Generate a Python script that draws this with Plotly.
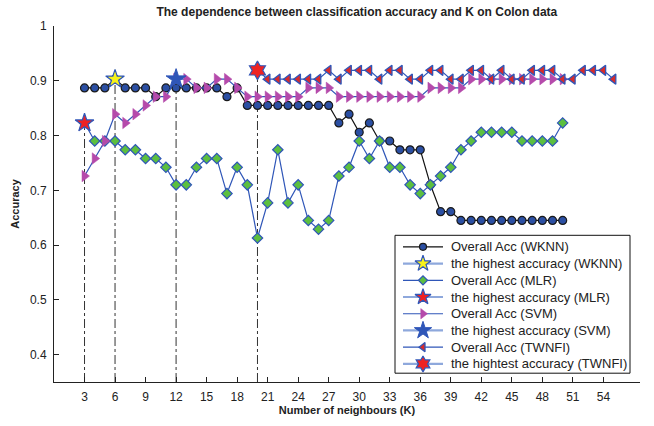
import plotly.graph_objects as go

# Neighbourhood sizes (K) for each classifier
k_wknn = list(range(3, 51))
k_mlr = list(range(3, 51))
k_svm = list(range(3, 51))
k_twnfi = list(range(20, 56))

# Overall accuracy per K
acc_wknn = [0.887, 0.887, 0.887, 0.903, 0.887, 0.887, 0.887, 0.871, 0.887, 0.887,
            0.887, 0.887, 0.887, 0.887, 0.871, 0.887, 0.855, 0.855, 0.855, 0.855,
            0.855, 0.855, 0.855, 0.855, 0.855, 0.823, 0.839, 0.806, 0.823, 0.790,
            0.790, 0.774, 0.774, 0.774, 0.710, 0.661, 0.661, 0.645, 0.645, 0.645,
            0.645, 0.645, 0.645, 0.645, 0.645, 0.645, 0.645, 0.645]
acc_mlr = [0.823, 0.790, 0.790, 0.790, 0.774, 0.774, 0.758, 0.758, 0.742, 0.710,
           0.710, 0.742, 0.758, 0.758, 0.694, 0.742, 0.710, 0.613, 0.677, 0.774,
           0.677, 0.710, 0.645, 0.629, 0.645, 0.726, 0.742, 0.790, 0.758, 0.790,
           0.742, 0.742, 0.710, 0.694, 0.710, 0.726, 0.742, 0.774, 0.790, 0.806,
           0.806, 0.806, 0.806, 0.790, 0.790, 0.790, 0.790, 0.823]
acc_svm = [0.726, 0.758, 0.790, 0.839, 0.823, 0.839, 0.855, 0.871, 0.871, 0.903,
           0.903, 0.887, 0.887, 0.903, 0.903, 0.887, 0.871, 0.871, 0.871, 0.871,
           0.871, 0.871, 0.887, 0.887, 0.887, 0.871, 0.871, 0.871, 0.871, 0.871,
           0.871, 0.871, 0.871, 0.871, 0.887, 0.887, 0.887, 0.887, 0.903, 0.903,
           0.903, 0.903, 0.903, 0.903, 0.903, 0.903, 0.903, 0.903]
acc_twnfi = [0.919, 0.903, 0.903, 0.903, 0.903, 0.903, 0.903, 0.919, 0.903, 0.919,
             0.919, 0.919, 0.903, 0.919, 0.919, 0.903, 0.903, 0.919, 0.919, 0.903,
             0.903, 0.919, 0.919, 0.903, 0.919, 0.903, 0.903, 0.919, 0.919, 0.919,
             0.903, 0.903, 0.919, 0.919, 0.919, 0.903]

x_ticks = list(range(3, 55, 3))
y_ticks = [0.4, 0.5, 0.6, 0.7, 0.8, 0.9, 1.0]
y_min, y_max = 0.35, 1.0
x_min, x_max = 0, 57.6

BLUE = "#2f56b8"
LIGHT_BLUE = "#8ea8dc"
FONT = "Liberation Sans, Arial, sans-serif"
TEXT = "#222222"

# Figure geometry (pixels)
W, H = 654, 426
M_L, M_R, M_T, M_B = 54, 14, 26, 36


def best(ks, vals):
    i = max(range(len(vals)), key=lambda j: (vals[j], -j))
    return ks[i], vals[i]


series = [
    dict(name="WKNN", ks=k_wknn, vals=acc_wknn, line="#111111",
         marker=dict(symbol="circle", size=8, color="#2b4fa3",
                     line=dict(color="#1a1a1a", width=1.2)),
         star=dict(symbol="star", size=14, color="#f6f21a",
                   line=dict(color=BLUE, width=1.2)),
         label="the highest accuracy (WKNN)"),
    dict(name="MLR", ks=k_mlr, vals=acc_mlr, line=BLUE,
         marker=dict(symbol="diamond", size=8, color="#5cbf3f",
                     line=dict(color=BLUE, width=1.2)),
         star=dict(symbol="star", size=14, color="#ee2222",
                   line=dict(color=BLUE, width=1.2)),
         label="the highest accuracy (MLR)"),
    dict(name="SVM", ks=k_svm, vals=acc_svm, line=BLUE,
         marker=dict(symbol="triangle-right", size=10, color="#b54aab",
                     line=dict(color="#b54aab", width=0.5)),
         star=dict(symbol="star", size=15, color="#2f56b8",
                   line=dict(color=BLUE, width=1)),
         label="the highest accuracy (SVM)"),
    dict(name="TWNFI", ks=k_twnfi, vals=acc_twnfi, line=BLUE,
         marker=dict(symbol="triangle-left", size=9, color="#d92b2b",
                     line=dict(color=BLUE, width=1.3)),
         star=dict(symbol="hexagram", size=14, color="#ee2222",
                   line=dict(color=BLUE, width=1.2)),
         label="the hightest accuracy (TWNFI)"),
]

fig = go.Figure()

# Dash-dot drop lines from each best K down to the axis
for s in series:
    bk, bv = best(s["ks"], s["vals"])
    fig.add_trace(go.Scatter(
        x=[bk, bk], y=[y_min, bv], mode="lines",
        line=dict(color="#333333", width=1, dash="dashdot"),
        showlegend=False, hoverinfo="skip"))

# Accuracy curves and their best-K markers
legend_items = []
for s in series:
    fig.add_trace(go.Scatter(
        x=s["ks"], y=s["vals"], mode="lines+markers",
        name=f"Overall Acc ({s['name']})",
        line=dict(color=s["line"], width=1.2),
        marker=s["marker"], showlegend=False))
    legend_items.append((f"Overall Acc ({s['name']})", s["line"], 1.2, s["marker"]))
    bk, bv = best(s["ks"], s["vals"])
    fig.add_trace(go.Scatter(
        x=[bk], y=[bv], mode="markers", name=s["label"],
        marker=s["star"], showlegend=False))
    legend_items.append((s["label"], LIGHT_BLUE, 2.2, s["star"]))

# Compact boxed legend drawn on a pixel-scaled overlay axis
box_l, box_r, box_t, box_b = 395, 630, 240, 381
row0, row_step = 251.8, 17.1
sample_l, sample_r, text_x = 403, 443, 449

fig.add_trace(go.Scatter(
    x=[box_l, box_r, box_r, box_l, box_l], y=[box_t, box_t, box_b, box_b, box_t],
    mode="lines", fill="toself", fillcolor="white",
    line=dict(color="#111111", width=1), xaxis="x2", yaxis="y2",
    showlegend=False, hoverinfo="skip"))

for i, (label, lcolor, lwidth, mk) in enumerate(legend_items):
    ry = row0 + i * row_step
    fig.add_trace(go.Scatter(
        x=[sample_l, sample_r], y=[ry, ry], mode="lines",
        line=dict(color=lcolor, width=lwidth), xaxis="x2", yaxis="y2",
        showlegend=False, hoverinfo="skip"))
    small = dict(mk)
    small["size"] = max(6, mk["size"] - 2) if mk["symbol"] in ("star", "hexagram") else mk["size"] - 1
    fig.add_trace(go.Scatter(
        x=[(sample_l + sample_r) / 2], y=[ry], mode="markers", marker=small,
        xaxis="x2", yaxis="y2", showlegend=False, hoverinfo="skip"))
    fig.add_annotation(
        x=text_x, y=ry, xref="x2", yref="y2", text=label, showarrow=False,
        xanchor="left", yanchor="middle",
        font=dict(size=13, family=FONT, color=TEXT))

fig.update_layout(
    width=W, height=H,
    margin=dict(l=M_L, r=M_R, t=M_T, b=M_B),
    paper_bgcolor="white", plot_bgcolor="white",
    font=dict(family=FONT, color=TEXT, size=12),
    showlegend=False,
    title=dict(text="<b>The dependence between classification accuracy and K on Colon data</b>",
               x=338 / W, xanchor="center", xref="paper",
               y=1 - 12 / H, yanchor="middle",
               font=dict(size=12, family=FONT, color=TEXT)),
    xaxis=dict(
        range=[x_min, x_max], tickvals=x_ticks, ticks="inside", ticklen=5,
        tickcolor=TEXT, showline=True, linecolor=TEXT, linewidth=1,
        showgrid=False, zeroline=False, tickfont=dict(size=12), ticklabelstandoff=4,
        title=dict(text="<b>Number of neighbours (K)</b>", font=dict(size=11), standoff=2)),
    yaxis=dict(
        range=[y_min, y_max], tickvals=y_ticks,
        ticktext=["0.4", "0.5", "0.6", "0.7", "0.8", "0.9", "1"],
        ticks="inside", ticklen=5, tickcolor=TEXT, showline=True,
        linecolor=TEXT, linewidth=1, showgrid=False, zeroline=False,
        tickfont=dict(size=12), ticklabelstandoff=4,
        title=dict(text="<b>Accuracy</b>", font=dict(size=11), standoff=8)),
    xaxis2=dict(overlaying="x", range=[M_L, W - M_R], visible=False,
                showgrid=False, zeroline=False, fixedrange=True),
    yaxis2=dict(overlaying="y", range=[H - M_B, M_T], visible=False,
                showgrid=False, zeroline=False, fixedrange=True),
)

fig.write_html("out.html")
